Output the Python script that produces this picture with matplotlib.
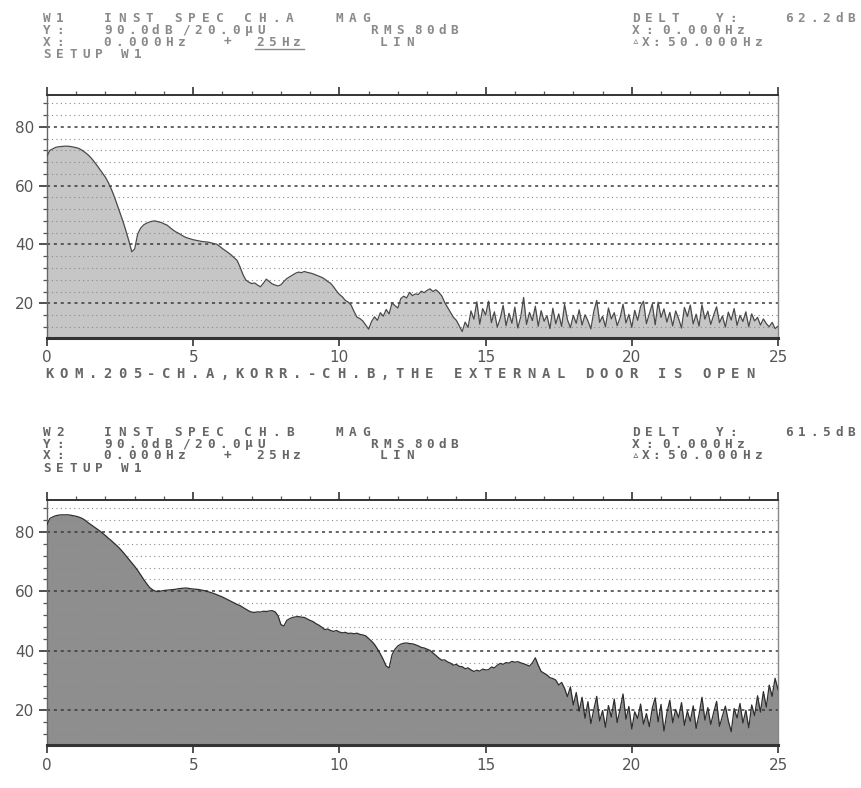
import numpy as np
import matplotlib
matplotlib.use("Agg")
import matplotlib.pyplot as plt

# frequency lines, 0.1 Hz apart, 0..25 Hz
freq = np.arange(251) * 0.1

# W1: instantaneous spectrum, channel A (dB)
level_a = [
    70.0, 72.0, 72.5, 73.0, 73.2, 73.3, 73.4, 73.4, 73.3, 73.1,
    72.9, 72.6, 72.0, 71.3, 70.5, 69.5, 68.3, 67.0, 65.6, 64.2,
    62.8, 61.0, 58.8, 56.3, 53.5, 50.6, 47.8, 44.6, 41.2, 37.5,
    38.5, 43.5, 45.5, 46.6, 47.2, 47.6, 47.9, 48.0, 47.7, 47.5,
    47.0, 46.6, 45.8, 45.0, 44.3, 43.8, 43.2, 42.6, 42.2, 41.9,
    41.6, 41.4, 41.2, 41.0, 40.9, 40.8, 40.6, 40.3, 40.1, 39.4,
    38.6, 37.9, 37.2, 36.4, 35.5, 34.6, 32.4, 29.8, 27.9, 27.2,
    26.7, 26.9, 26.2, 25.6, 26.8, 28.2, 27.4, 26.6, 26.2, 25.9,
    26.3, 27.4, 28.4, 29.0, 29.6, 30.2, 30.6, 30.4, 30.8, 30.5,
    30.3, 30.0, 29.6, 29.2, 28.8, 28.2, 27.4, 26.8, 25.6, 24.2,
    23.0, 22.2, 21.0, 20.4, 19.4, 17.2, 15.3, 14.8, 14.0, 12.6,
    11.2, 13.8, 15.4, 14.2, 16.8, 15.6, 17.9, 16.4, 20.1, 19.2,
    18.4, 21.6, 22.4, 21.8, 23.7, 22.6, 23.2, 23.0, 24.1, 23.6,
    24.4, 24.9, 24.0, 24.6, 23.7, 22.5, 20.3, 18.6, 16.9, 15.2,
    14.2, 12.3, 10.4, 13.6, 11.8, 17.4, 14.6, 20.5, 12.9, 18.2,
    16.0, 20.7, 13.4, 17.1, 11.9, 14.8, 19.3, 12.4, 16.6, 13.2,
    18.7, 11.6, 15.3, 22.0, 12.8, 16.9, 14.1, 19.0, 12.2, 17.5,
    13.9, 15.8, 11.4, 18.3, 13.0, 16.4, 12.1, 19.6, 14.4, 11.7,
    15.9, 13.2, 17.8, 12.6, 16.1, 14.0, 11.3, 17.2, 21.0, 13.5,
    15.6, 12.0, 18.4, 14.7, 16.8, 12.4, 15.1, 19.7, 13.3, 16.2,
    11.8, 17.6, 14.2, 18.9, 20.7, 13.1, 16.5, 19.8, 12.7, 20.4,
    15.2, 18.1, 13.6, 16.9, 12.3, 17.4, 14.8, 11.6, 18.6, 15.5,
    19.4, 13.0, 16.3, 12.2, 19.5, 14.6, 17.3, 12.8, 16.0, 18.8,
    13.4, 15.7, 11.9, 17.0, 14.3, 18.2, 12.5, 15.9, 13.8, 17.1,
    12.0, 16.4, 14.0, 15.2, 12.6, 14.7, 13.1, 12.0, 13.5, 11.4,
    12.2,
]

# W2: instantaneous spectrum, channel B (dB)
level_b = [
    82.5, 84.6, 85.1, 85.5, 85.7, 85.8, 85.8, 85.8, 85.7, 85.5,
    85.3, 85.0, 84.6, 84.0, 83.2, 82.5, 81.8, 81.1, 80.4, 79.6,
    78.8, 77.9, 77.1, 76.2, 75.3, 74.3, 73.2, 72.0, 70.8, 69.6,
    68.4, 67.1, 65.6, 64.1, 62.7, 61.4, 60.6, 60.1, 59.9, 60.1,
    60.3, 60.4, 60.5, 60.6, 60.7, 60.9, 61.0, 61.1, 61.1, 60.9,
    60.8, 60.7, 60.6, 60.4, 60.2, 59.9, 59.6, 59.3, 58.9, 58.5,
    58.1, 57.6, 57.1, 56.6, 56.1, 55.6, 55.2, 54.6, 54.0, 53.4,
    53.0, 52.9, 53.1, 53.0, 53.3, 53.2, 53.4, 53.5, 53.1, 51.8,
    48.8, 48.3, 50.2, 50.8, 51.2, 51.4, 51.5, 51.3, 51.2, 50.7,
    50.2, 49.8, 49.1, 48.6, 47.9, 47.1, 47.3, 46.8, 46.5, 46.8,
    46.3, 46.0, 46.2, 45.8, 45.9, 45.7, 45.9, 45.5, 45.3, 45.0,
    44.1, 43.2, 42.1, 40.6, 38.9, 37.0, 34.8, 34.2, 38.6, 40.5,
    41.6, 42.2, 42.5, 42.6, 42.4, 42.3, 42.0, 41.6, 41.1, 40.9,
    40.5, 40.1, 39.2, 38.4, 37.5, 36.8, 36.9, 36.2, 35.8, 35.1,
    35.4, 34.7, 34.6, 33.9, 34.2, 33.5, 33.0, 33.4, 33.1, 33.8,
    33.5, 33.6, 34.5, 34.2, 35.1, 35.7, 35.4, 36.0, 35.8, 36.4,
    36.1, 36.3, 35.9, 35.6, 35.2, 34.8, 35.9, 37.6, 35.1, 33.0,
    32.4, 31.8, 30.9, 30.6, 30.1, 28.4, 29.3, 27.3, 24.5, 27.8,
    21.7, 25.9, 19.6, 24.3, 17.2, 22.8, 15.4, 20.1, 24.6, 16.3,
    19.8, 14.2, 21.5, 17.6, 23.7, 15.8, 20.3, 25.4, 16.9, 21.2,
    13.6, 19.4, 17.1, 22.0, 15.2, 18.8, 14.4, 20.6, 24.1, 16.0,
    21.9, 12.9, 19.0, 23.3, 15.7, 20.2, 17.4, 22.5, 14.8, 19.6,
    16.2, 21.4, 13.8, 18.5, 24.3, 16.6, 20.8, 15.1, 19.2, 22.9,
    14.5, 18.0, 21.3, 16.4, 12.7, 20.5, 17.3, 22.2, 15.6, 19.9,
    14.0, 21.7, 18.1, 24.8, 19.3, 26.2, 21.0, 28.4, 24.6, 30.7,
    26.9,
]

x_ticks = [0, 5, 10, 15, 20, 25]
y_ticks = [20, 40, 60, 80]

W, H = 861, 788
fig = plt.figure(figsize=(W / 100, H / 100), dpi=100)
MONO = ["DejaVu Sans Mono", "DejaVu Sans"]


def px_axes(left, top, right, bottom):
    return fig.add_axes([left / W, 1 - bottom / H, (right - left) / W, (bottom - top) / H])


def printer_text(x, y, s, pitch=13.0, size=9.2, color="#555555"):
    # fixed pitch like the analyzer's plotter
    for i, ch in enumerate(s):
        if ch != " ":
            fig.text((x + i * pitch) / W, 1 - y / H, ch, ha="left", va="center",
                     family=MONO, fontsize=size, color=color, weight="bold")


def header(top, name, chan, delta_y, col, underline=False):
    y = [top, top + 12, top + 24, top + 36]
    printer_text(43, y[0], name, color=col)
    printer_text(104, y[0], "INST SPEC " + chan, pitch=14.0, color=col)
    printer_text(336, y[0], "MAG", color=col)
    printer_text(43, y[1], "Y:", color=col)
    printer_text(104, y[1], "90.0dB", pitch=12.0, color=col)
    printer_text(182, y[1], "/20.0\u00b5U", pitch=12.5, color=col)
    printer_text(370, y[1], "RMS", color=col)
    printer_text(414, y[1], "80dB", pitch=12.0, color=col)
    printer_text(43, y[2], "X:", color=col)
    printer_text(103, y[2], "0.000Hz", pitch=12.5, color=col)
    printer_text(224, y[2], "+", color=col)
    printer_text(256, y[2], "25Hz", pitch=12.5, color=col)
    if underline:
        yy = 1 - (y[2] + 7) / H
        fig.add_artist(plt.Line2D([255 / W, 304 / W], [yy, yy], color=col, lw=1))
    printer_text(380, y[2], "LIN", color=col)
    printer_text(43, y[3], "SETUP W1", color=col)
    printer_text(632, y[0], "DELT", color=col)
    printer_text(716, y[0], "Y:", color=col)
    printer_text(785, y[0], delta_y, pitch=12.5, color=col)
    printer_text(632, y[1], "X:", color=col)
    printer_text(662, y[1], "0.000Hz", pitch=12.5, color=col)
    printer_text(632, y[2], "\u25b5X:", pitch=10.0, color=col)
    printer_text(667, y[2], "50.000Hz", pitch=12.5, color=col)


def spectrum(ax, levels, fill_col, line_col):
    ax.set_xlim(0, 25)
    ax.set_ylim(8.2, 90.8)
    ax.fill_between(freq, 0, levels, color=fill_col, lw=0, zorder=1)
    ax.plot(freq, levels, color=line_col, lw=0.9, zorder=3)
    # light dotted rows every 4 dB, heavier ones every 20 dB
    for v in range(12, 90, 4):
        if v % 20 == 0:
            ax.axhline(v, color="#3a3a3a", lw=1.1, ls=(0, (2, 2.5)), zorder=2)
        else:
            ax.axhline(v, color="#8a8a8a", lw=0.8, ls=(0, (1, 3)), zorder=2)
    ax.set_xticks(x_ticks)
    ax.set_xticks(np.arange(0, 26, 1), minor=True)
    ax.set_yticks(y_ticks)
    ax.set_yticks(np.arange(12, 90, 4), minor=True)
    ax.tick_params(which="major", top=True, direction="out", length=6, width=1.2,
                   color="#333333", labelsize=11, labelcolor="#555555", pad=3)
    ax.tick_params(which="minor", top=True, bottom=False, direction="out", length=3,
                   width=0.9, color="#555555")
    ax.tick_params(axis="y", which="minor", left=True, right=False)
    ax.spines["bottom"].set_linewidth(2.2)
    ax.spines["bottom"].set_color("#333333")
    ax.spines["top"].set_linewidth(1.4)
    ax.spines["top"].set_color("#333333")
    ax.spines["left"].set_linewidth(1.0)
    ax.spines["left"].set_color("#666666")
    ax.spines["right"].set_linewidth(1.0)
    ax.spines["right"].set_color("#888888")


ax1 = px_axes(47, 95, 778, 338)
spectrum(ax1, level_a, "#c6c6c6", "#4a4a4a")
ax2 = px_axes(47, 500, 778, 745)
spectrum(ax2, level_b, "#8e8e8e", "#2e2e2e")

header(18, "W1", "CH.A", "62.2dB", "#8a8a8a", underline=True)
printer_text(45, 374, "KOM.205-CH.A,KORR.-CH.B,THE EXTERNAL DOOR IS OPEN",
             pitch=14.6, size=10, color="#666666")
header(432, "W2", "CH.B", "61.5dB", "#666666")

fig.savefig("out.png", dpi=100, facecolor="white")
